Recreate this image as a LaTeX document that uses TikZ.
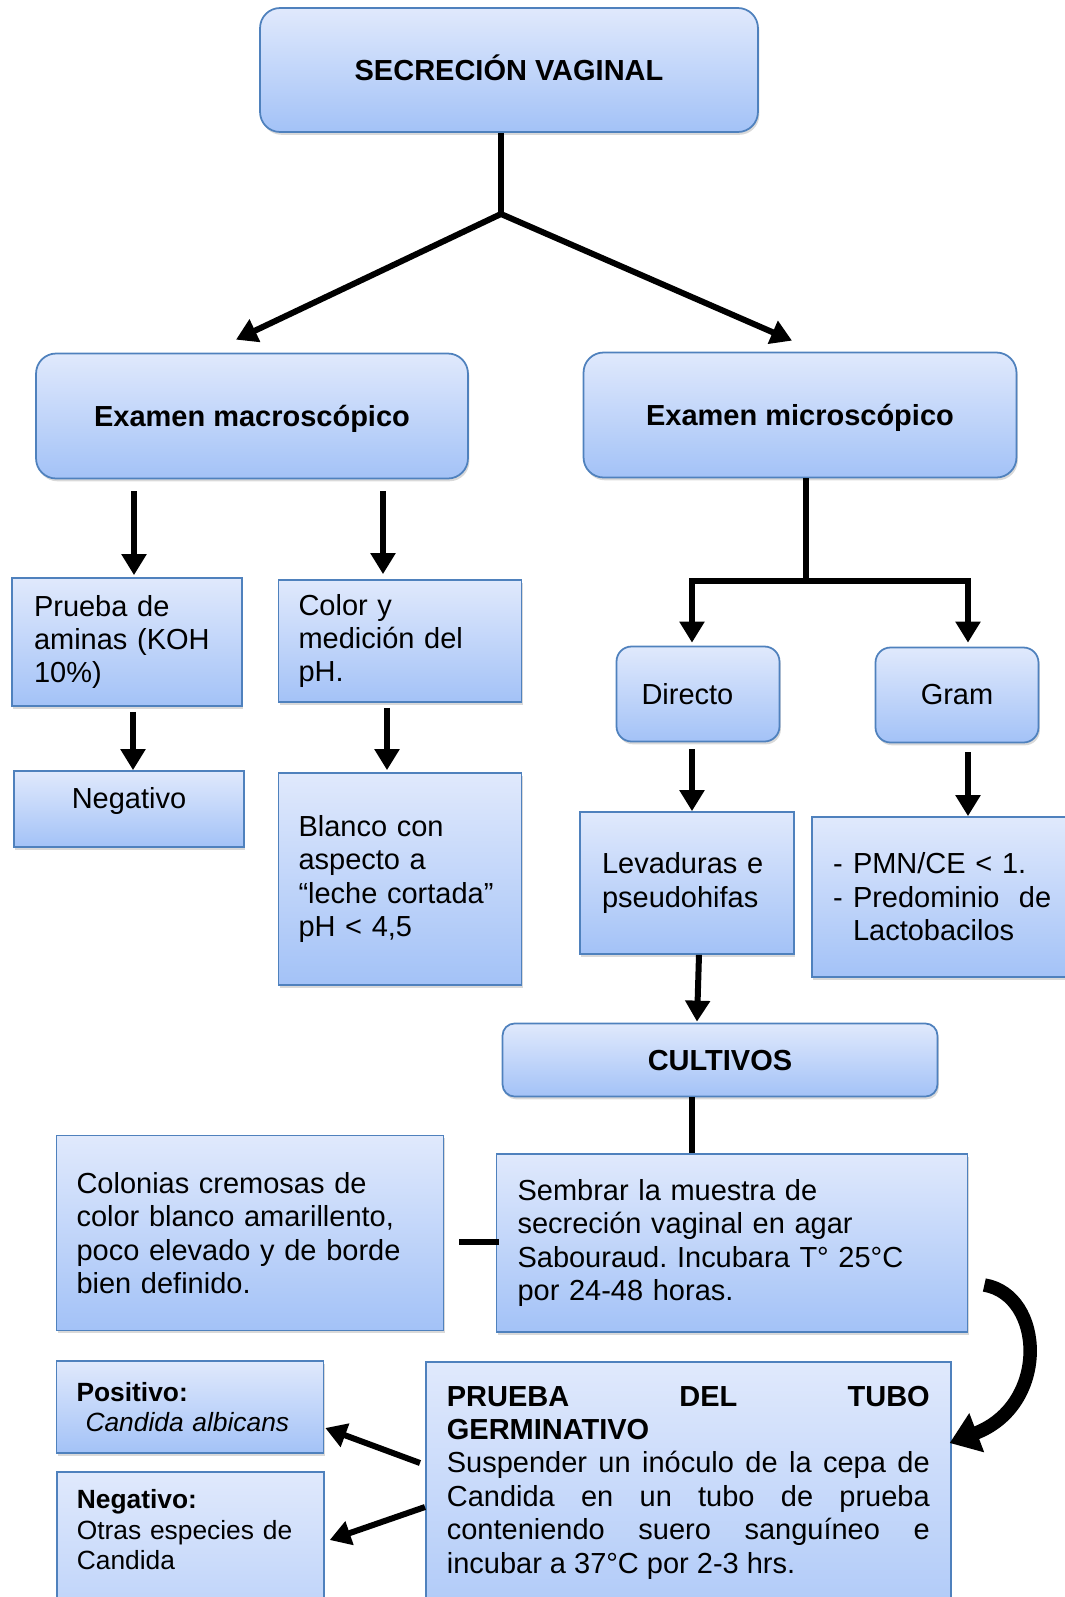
\documentclass[tikz,border=0pt]{standalone}
\usepackage{fontspec}
\setmainfont{Liberation Sans}
\usepackage{tikz}
\usetikzlibrary{calc, arrows.meta, shadows}
\frenchspacing

\definecolor{borde}{RGB}{79,129,189}
\definecolor{arriba}{RGB}{224,233,252}
\definecolor{abajo}{RGB}{163,194,247}

\begin{document}
\begin{tikzpicture}[x=0.02cm, y=-0.02cm,
		caja/.style = {draw=borde, line width=1pt, top color=arriba, bottom color=abajo, drop shadow={shadow xshift=0.8pt, shadow yshift=-1.6pt, opacity=0.3}, inner sep=0pt},
		redonda/.style = {caja, rounded corners=#1},
		letra/.style = {font=\fontsize{16.5}{19}\selectfont},
		negrita/.style = {font=\fontsize{16.5}{19}\selectfont\bfseries, text height=12pt, text depth=0pt},
		chica/.style = {font=\fontsize{15}{17.3}\selectfont},
		linea/.style = {line width=0.12cm},
		flecha/.style = {linea, -{Triangle[width=0.48cm, length=0.42cm]}},
		curva/.style = {line width=0.27cm, -{Triangle[width=0.8cm, length=0.58cm]}}]
		
		%page
		\useasboundingbox (0,0) rectangle (1065,1597);
		
		%top
		\node [redonda=0.4cm, negrita, minimum width=9.96cm, minimum height=2.48cm] (secrecion) at (509,70) {SECRECIÓN VAGINAL};
		
		%the two exams
		\node [redonda=0.4cm, negrita, minimum width=8.64cm, minimum height=2.5cm] (macro) at (252,416) {Examen macroscópico};
		\node [redonda=0.4cm, negrita, minimum width=8.66cm, minimum height=2.5cm] (micro) at (800,415) {Examen microscópico};
		
		\coordinate (rama) at (501,214);
		\draw [linea] (secrecion.south -| rama) -- (rama);
		\draw [flecha] (rama) -- ($ (macro.north) + (-16,-13) $);
		\draw [flecha] (rama) -- ($ (micro.north) + (-8,-11) $);
		
		%macroscopic branch
		\node [caja, letra, align=left, text width=3.72cm, inner xsep=0.44cm, minimum width=4.6cm, minimum height=2.56cm] (aminas) at (127,642) {Prueba de\\aminas (KOH\\10\%)};
		\node [caja, letra, align=left, text width=4.06cm, inner xsep=0.4cm, minimum width=4.86cm, minimum height=2.44cm] (color) at (400,641) {Color y\\medición del\\pH.};
		\node [caja, letra, text depth=12pt, minimum width=4.6cm, minimum height=1.52cm] (neg1) at (129,809) {Negativo};
		\node [caja, letra, align=left, text width=4.06cm, inner xsep=0.4cm, minimum width=4.86cm, minimum height=4.24cm] (blanco) at (400,879) {Blanco con\\aspecto a\\“leche cortada”\\pH < 4,5};
		
		\draw [flecha] ($ (aminas.north |- macro.south) + (7,12) $) -- ($ (aminas.north) + (7,-2) $);
		\draw [flecha] ($ (color.north |- macro.south) + (-17,12) $) -- ($ (color.north) + (-17,-5) $);
		\draw [flecha] ($ (aminas.south) + (6,5) $) -- ($ (neg1.north) + (4,0) $);
		\draw [flecha] ($ (color.south) + (-13,5) $) -- ($ (blanco.north) + (-13,-2) $);
		
		%microscopic branch
		\node [redonda=0.3cm, letra, align=left, text width=2.26cm, inner xsep=0.5cm, minimum width=3.26cm, minimum height=1.9cm] (directo) at (698,694) {Directo};
		\node [redonda=0.3cm, letra, minimum width=3.26cm, minimum height=1.9cm] (gram) at (957,695) {Gram};
		\node [caja, letra, align=left, text width=3.4cm, inner xsep=0.44cm, minimum width=4.28cm, minimum height=2.84cm] (levad) at (687,883) {Levaduras e\\pseudohifas};
		\node [caja, letra, align=left, text width=4.56cm, inner xsep=0.42cm, minimum width=5.4cm, minimum height=3.2cm] (pmn) at (947,897) {\makebox[0.4cm][l]{-}PMN/CE < 1.\\\makebox[0.4cm][l]{-}Predominio\ \ de\\\hspace*{0.4cm}Lactobacilos};
		
		\coordinate (rm) at ($ (micro.south) + (6,103) $);
		\draw [linea] (micro.south -| rm) -- (rm);
		\draw [flecha] (rm) -| ($ (directo.north) + (-6,-3) $);
		\draw [flecha] (rm) -| ($ (gram.north) + (11,-4) $);
		\draw [flecha] ($ (directo.south) + (-6,7) $) -- ($ (levad.north) + (5,0) $);
		\draw [flecha] ($ (gram.south) + (11,9) $) -- ($ (pmn.north) + (21,0) $);
		
		%culture
		\node [redonda=0.24cm, negrita, minimum width=8.7cm, minimum height=1.46cm] (cultivos) at (720,1060) {CULTIVOS};
		\node [caja, letra, align=left, text width=8.58cm, inner xsep=0.42cm, minimum width=9.42cm, minimum height=3.56cm] (sembrar) at (732,1243) {Sembrar la muestra de\\secreción vaginal en agar\\Sabouraud. Incubara T° 25°C\\por 24-48 horas.};
		\node [caja, letra, align=left, text width=6.94cm, inner xsep=0.4cm, minimum width=7.74cm, minimum height=3.9cm] (colonias) at (250,1233) {Colonias cremosas de\\color blanco amarillento,\\poco elevado y de borde\\bien definido.};
		
		\draw [flecha] ($ (levad.south) + (12,0) $) -- ($ (cultivos.north) + (-23,-1) $);
		\draw [linea] ($ (cultivos.south) + (-28,0) $) -- ($ (sembrar.north) + (-40,0) $);
		\draw [linea] ($ (colonias.east) + (15,9) $) -- ($ (sembrar.west) + (3,-1) $);
		
		%germ tube test
		\node [caja, letra, anchor=north west, align=justify, text width=9.66cm, inner xsep=0.42cm, inner ysep=0.48cm, text depth=5cm] (tubo) at (425,1361) {{\bfseries PRUEBA DEL TUBO\linebreak GERMINATIVO}\\Suspender un inóculo de la cepa de\linebreak Candida en un tubo de prueba\linebreak conteniendo suero sanguíneo e\linebreak incubar a 37°C por 2-3 hrs.};
		\node [caja, chica, align=left, text width=4.54cm, inner xsep=0.4cm, minimum width=5.34cm, minimum height=1.84cm] (pos) at (190,1407) {\textbf{Positivo:}\\\hspace*{0.18cm}\textit{Candida albicans}};
		\node [caja, chica, anchor=north west, align=left, text width=4.54cm, inner xsep=0.4cm, inner ysep=0.36cm, text depth=4cm] (neg2) at (56,1471) {\textbf{Negativo:}\\Otras especies de\\Candida};
		
		\draw [curva] ($ (sembrar.east) + (16,42) $) .. controls ($ (sembrar.east) + (76,52) $) and ($ (tubo.north east) + (98,44) $) .. ($ (tubo.north east) + (-2,82) $);
		\draw [flecha] ($ (tubo.north west) + (-5,102) $) -- ($ (pos.east) + (1,21) $);
		\draw [flecha] ($ (tubo.north west) + (0,146) $) -- ($ (neg2.north east) + (5,69) $);
	\end{tikzpicture}
\end{document}
